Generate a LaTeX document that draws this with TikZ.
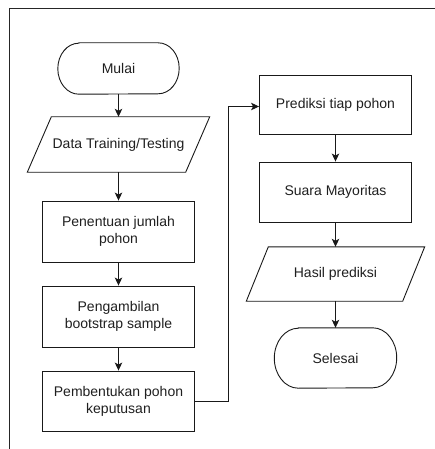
\documentclass[tikz,border=0pt]{standalone}
\usepackage{fontspec}
\setmainfont{Liberation Sans}
\usetikzlibrary{arrows.meta}

% outline of a terminator: flat top and bottom, elliptic ends
% #1 node name, #2 horizontal radius of the ends, #3 vertical radius
\newcommand\termoutline[3]{%
  \draw[shapeline] ([xshift=#2pt]#1.north west) -- ([xshift=-#2pt]#1.north east)
    arc[start angle=-90,end angle=90,x radius=#2,y radius=#3]
    -- ([xshift=#2pt]#1.south west)
    arc[start angle=90,end angle=270,x radius=#2,y radius=#3] -- cycle;}

% outline of a data (input/output) parallelogram around a node; #2 half slant
\newcommand\iooutline[2]{%
  \draw[shapeline] ([xshift=-#2pt]#1.south west) -- ([xshift=-#2pt]#1.south east)
    -- ([xshift=#2pt]#1.north east) -- ([xshift=#2pt]#1.north west) -- cycle;}

\begin{document}
\begin{tikzpicture}[x=1pt,y=-1pt,
  font=\fontsize{14}{17}\selectfont,
  shapeline/.style={draw=black!90, line width=0.9pt},
  every node/.style={text=black!88, align=center, inner sep=2pt},
  procbox/.style={shapeline, rectangle, minimum width=152pt, minimum height=60pt},
  termbox/.style={rectangle, minimum width=121pt, minimum height=51pt},
  iobox/.style={rectangle, minimum width=158pt, minimum height=55pt},
  flow/.style={draw=black!90, line width=0.9pt, -{Stealth[length=8pt,width=7.5pt,inset=2pt]}}
]
  \useasboundingbox (0,0) rectangle (435,449);

  % page frame (top and left edges only)
  \draw[line width=1pt, black!85] (435,9) -- (9,9) -- (9,449);

  % left column
  \node[termbox] (mulai) at (118.5,68.5) {Mulai};
  \node[iobox] (data) at (118.5,144.5) {Data Training/Testing};
  \node[procbox, minimum height=61pt] (pen) at (118.5,231.5) {Penentuan jumlah\\pohon};
  \node[procbox, minimum height=61pt] (peng) at (118.5,316.5) {Pengambilan\\bootstrap sample};
  \node[procbox] (pemb) at (118.5,401) {Pembentukan pohon\\keputusan};

  % right column
  \node[procbox, minimum height=59pt] (pred) at (335.5,104.5) {Prediksi tiap pohon};
  \node[procbox] (suara) at (335.5,192) {Suara Mayoritas};
  \node[iobox, minimum width=156pt, minimum height=54pt] (hasil) at (335.5,274) {Hasil prediksi};
  \node[termbox, minimum width=122pt, minimum height=60pt] (selesai) at (335.5,358) {Selesai};

  % outlines of terminators and data shapes
  \termoutline{mulai}{21}{25.5}
  \termoutline{selesai}{24}{30}
  \iooutline{data}{12}
  \iooutline{hasil}{11}

  % connectors
  \draw[flow] (mulai) -- (data);
  \draw[flow] (data) -- (pen);
  \draw[flow] (pen) -- (peng);
  \draw[flow] (peng) -- (pemb);
  \draw[flow] (pemb.east) -- ++(33.5,0) |- ([yshift=-2pt]pred.west);
  \draw[flow] (pred) -- (suara);
  \draw[flow] (suara) -- (hasil);
  \draw[flow] (hasil) -- (selesai);
\end{tikzpicture}
\end{document}
